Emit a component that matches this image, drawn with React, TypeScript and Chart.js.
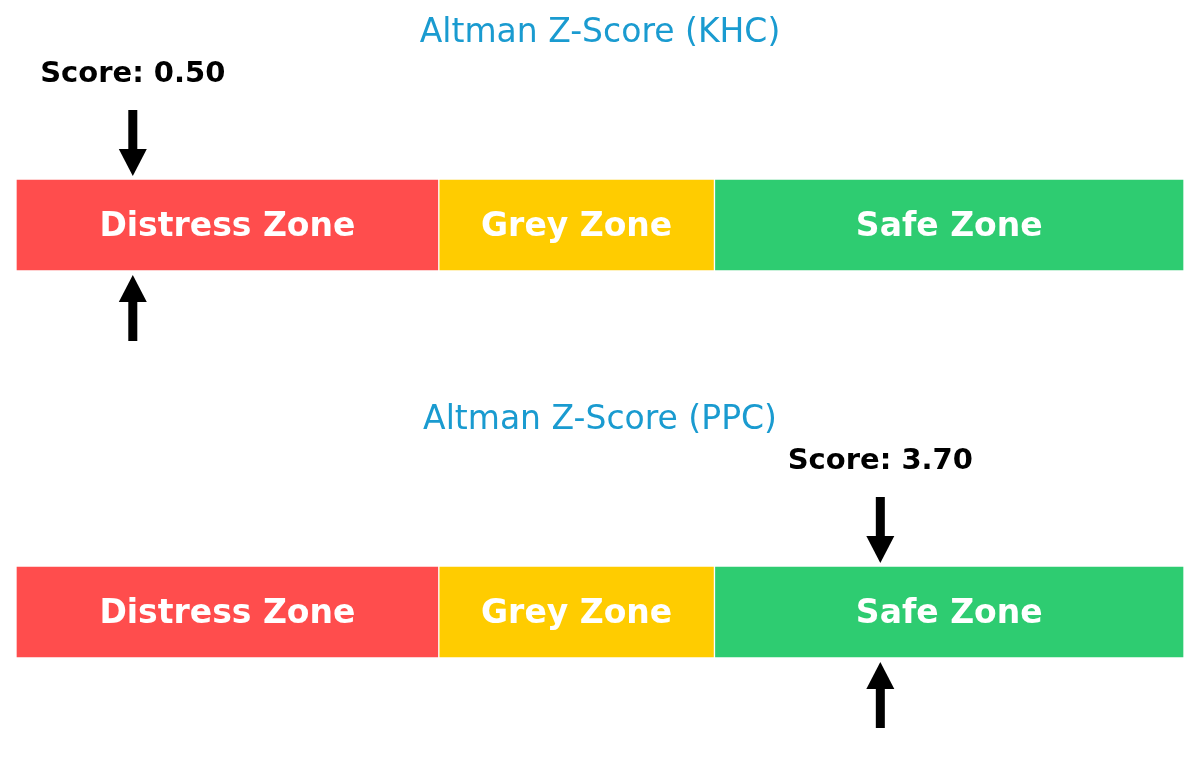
import React, { useEffect, useRef } from "react";
import { Chart, registerables } from "chart.js";

Chart.register(...registerables);

const companies = ["KHC", "PPC"];
const scores = [0.5, 3.7];
const zoneLabels = ["Distress Zone", "Grey Zone", "Safe Zone"];
const zoneWidths = [1.81, 1.18, 2.01];
const zoneColors = ["#ff4d4d", "#ffcc00", "#2ecc71"];
const axisMin = 0;
const axisMax = 5;

const FONT = "'DejaVu Sans', 'Liberation Sans', sans-serif";

function drawArrow(ctx: CanvasRenderingContext2D, x: number, tipY: number, headBaseY: number, tailY: number) {
  ctx.save();
  ctx.fillStyle = "#000000";
  const shaftW = 9;
  const headW = 28;
  const top = Math.min(headBaseY, tailY);
  const h = Math.abs(tailY - headBaseY);
  ctx.fillRect(x - shaftW / 2, top, shaftW, h);
  ctx.beginPath();
  ctx.moveTo(x - headW / 2, headBaseY);
  ctx.lineTo(x + headW / 2, headBaseY);
  ctx.lineTo(x, tipY);
  ctx.closePath();
  ctx.fill();
  ctx.restore();
}

function ZoneChart({ company, score }: { company: string; score: number }) {
  const ref = useRef<HTMLCanvasElement | null>(null);
  useEffect(() => {
    if (!ref.current) return;
    const overlay = {
      id: "zoneOverlay",
      afterDatasetsDraw(chart: any) {
        const ctx: CanvasRenderingContext2D = chart.ctx;
        const xs = chart.scales.x;
        const area = chart.chartArea;
        ctx.save();
        ctx.fillStyle = "#ffffff";
        ctx.font = `bold 33px ${FONT}`;
        ctx.textAlign = "center";
        ctx.textBaseline = "alphabetic";
        const cy = (area.top + area.bottom) / 2;
        zoneLabels.forEach((lbl, i) => {
          const el = chart.getDatasetMeta(i).data[0];
          const cx = (el.x + el.base) / 2;
          ctx.fillText(lbl, cx, cy + 11);
        });
        ctx.fillStyle = "#1a9bd0";
        ctx.font = `33px ${FONT}`;
        ctx.fillText(`Altman Z-Score (${company})`, chart.width / 2, 42);
        const sx = xs.getPixelForValue(score);
        ctx.fillStyle = "#000000";
        ctx.font = `bold 29px ${FONT}`;
        ctx.fillText(`Score: ${score.toFixed(2)}`, sx, 82);
        ctx.restore();
        drawArrow(ctx, sx, area.top - 3, area.top - 30, area.top - 69);
        drawArrow(ctx, sx, area.bottom + 4, area.bottom + 31, area.bottom + 70);
      },
    };
    const chart = new Chart(ref.current, {
      type: "bar",
      data: {
        labels: [company],
        datasets: zoneLabels.map((lbl, i) => ({
          label: lbl,
          data: [zoneWidths[i]],
          backgroundColor: zoneColors[i],
          borderColor: "#ffffff",
          borderWidth: 1,
          borderSkipped: false,
          categoryPercentage: 1,
          barPercentage: 1,
        })),
      },
      options: {
        indexAxis: "y",
        responsive: true,
        maintainAspectRatio: false,
        animation: false,
        layout: { padding: { left: 16, right: 16, top: 179, bottom: 116 } },
        plugins: {
          legend: { display: false },
          tooltip: { enabled: false },
          title: { display: false },
        },
        scales: {
          x: { stacked: true, min: axisMin, max: axisMax, display: false },
          y: { stacked: true, display: false },
        },
      },
      plugins: [overlay],
    } as any);
    return () => chart.destroy();
  }, [company, score]);
  return (
    <div style={{ position: "relative", width: 1200, height: 387 }}>
      <canvas ref={ref} />
    </div>
  );
}

export default function App() {
  useEffect(() => {
    document.body.style.margin = "0";
    document.body.style.background = "#ffffff";
  }, []);
  return (
    <div style={{ width: 1200, height: 774, background: "#ffffff" }}>
      {companies.map((c, i) => (
        <ZoneChart key={c} company={c} score={scores[i]} />
      ))}
    </div>
  );
}
